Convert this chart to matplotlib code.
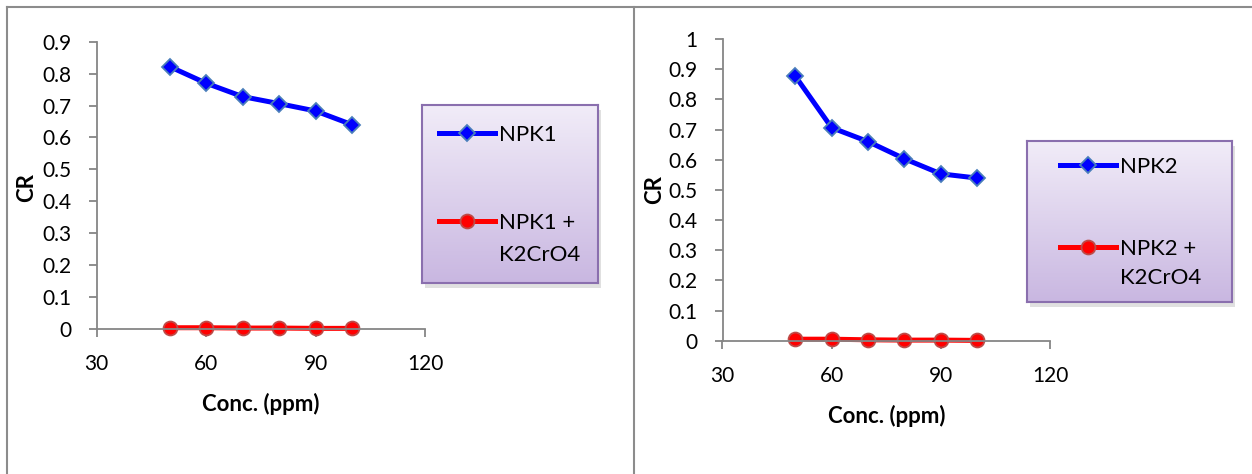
import matplotlib.pyplot as plt
import numpy as np
from matplotlib.colors import LinearSegmentedColormap
from matplotlib.lines import Line2D
from matplotlib.patches import Rectangle

plt.rcParams['font.family'] = ['Lato', 'DejaVu Sans']

conc = [50, 60, 70, 80, 90, 100]
npk1 = [0.822, 0.770, 0.728, 0.706, 0.683, 0.640]
npk1_k2 = [0.004, 0.004, 0.003, 0.003, 0.002, 0.002]
npk2 = [0.877, 0.706, 0.660, 0.603, 0.553, 0.539]
npk2_k2 = [0.005, 0.005, 0.003, 0.002, 0.002, 0.001]

x_ticks = [30, 60, 90, 120]
y1_ticks = [0, 0.1, 0.2, 0.3, 0.4, 0.5, 0.6, 0.7, 0.8, 0.9]
y2_ticks = [0, 0.1, 0.2, 0.3, 0.4, 0.5, 0.6, 0.7, 0.8, 0.9, 1]
y1_labels = ["0", "0.1", "0.2", "0.3", "0.4", "0.5", "0.6", "0.7", "0.8", "0.9"]
y2_labels = ["0", "0.1", "0.2", "0.3", "0.4", "0.5", "0.6", "0.7", "0.8", "0.9", "1"]

W, H = 1252, 474
fig = plt.figure(figsize=(W / 100, H / 100), dpi=100)

GRAY = "#868686"
BORDER = "#8c8c8c"


def px_axes(x0, y0, x1, y1):
    # pixel box (top-left origin) -> figure fraction
    return [x0 / W, 1 - y1 / H, (x1 - x0) / W, (y1 - y0) / H]


def panel(rect, blue, red, yticks, ylabels, ymax, names, leg_rect, leg_pos,
          ylab_xy, xlab_y, row_gap, line_gap):
    ax = fig.add_axes(rect)
    l1, = ax.plot(conc, blue, color="#0000ff", lw=3.6, marker="D", ms=8,
                  mfc="#0000ff", mec="#4a7ebb", mew=1.3, clip_on=False)
    l2, = ax.plot(conc, red, color="#ff0000", lw=3.6, marker="o", ms=10,
                  mfc="#ff0000", mec="#be4b48", mew=1.3, clip_on=False)
    ax.set_xlim(30, 120)
    ax.set_ylim(0, ymax)
    ax.set_xticks(x_ticks)
    ax.set_yticks(yticks)
    ax.set_yticklabels(ylabels)
    for s in ["top", "right"]:
        ax.spines[s].set_visible(False)
    for s in ["left", "bottom"]:
        ax.spines[s].set_color(GRAY)
        ax.spines[s].set_linewidth(1.3)
    ax.tick_params(direction="out", length=6, width=1.3, color=GRAY,
                   labelsize=15)
    ax.tick_params(axis="y", pad=12)
    ax.tick_params(axis="x", pad=12)
    ax.set_xlabel("Conc. (ppm)", fontsize=16, fontweight="bold")
    ax.set_ylabel("CR", fontsize=16, fontweight="bold")
    ax.yaxis.set_label_coords(*ylab_xy)
    ax.xaxis.set_label_coords(0.5, xlab_y)

    # soft shadow, then gradient legend box
    x0, y0, x1, y1 = leg_rect
    fig.patches.append(Rectangle(((x0 + 3) / W, 1 - (y1 + 5) / H),
                                 (x1 - x0) / W, (y1 - y0) / H,
                                 transform=fig.transFigure, color="#000000",
                                 alpha=0.12, lw=0))
    lax = fig.add_axes(px_axes(*leg_rect))
    lax.set_zorder(2)
    grad = np.linspace(0, 1, 100).reshape(-1, 1)
    cmap = LinearSegmentedColormap.from_list("lav", ["#f1ecf8", "#c9b7e1"])
    lax.imshow(grad, aspect="auto", cmap=cmap, extent=[0, 1, 0, 1])
    lax.set_xticks([])
    lax.set_yticks([])
    for s in lax.spines.values():
        s.set_color("#8a6fae")
        s.set_linewidth(1.5)
    leg = fig.legend([l1, l2], names, loc="upper left",
                     bbox_to_anchor=(leg_pos[0] / W, 1 - leg_pos[1] / H),
                     frameon=False, fontsize=16, handlelength=2.5,
                     handletextpad=0.22, labelspacing=row_gap, borderpad=0,
                     borderaxespad=0)
    leg.set_zorder(6)
    for t in leg.get_texts():
        t.set_linespacing(line_gap)
    # keep the marker on the first line of a two-line label
    for col in leg._legend_handle_box.get_children():
        for row in col.get_children():
            row.align = "top"
    return ax


panel(px_axes(96.7, 41.7, 425, 329), npk1, npk1_k2, y1_ticks, y1_labels, 0.9,
      ["NPK1", "NPK1 +\nK2CrO4"], (422, 105, 598, 283), (439, 125),
      (-0.182, 0.494), -0.223, 3.05, 1.75)
panel(px_axes(722.5, 39, 1050, 340.7), npk2, npk2_k2, y2_ticks, y2_labels, 1.0,
      ["NPK2", "NPK2 +\nK2CrO4"], (1027, 141, 1232, 302), (1060, 157),
      (-0.176, 0.5), -0.213, 2.78, 1.6)

# frame lines around the two panels
for xs, ys in [([7, W], [7, 7]), ([7, 7], [7, H]), ([634, 634], [7, H])]:
    fig.add_artist(Line2D([x / W for x in xs], [1 - y / H for y in ys],
                          color=BORDER, lw=1.5))

fig.savefig("out.png", dpi=100)
